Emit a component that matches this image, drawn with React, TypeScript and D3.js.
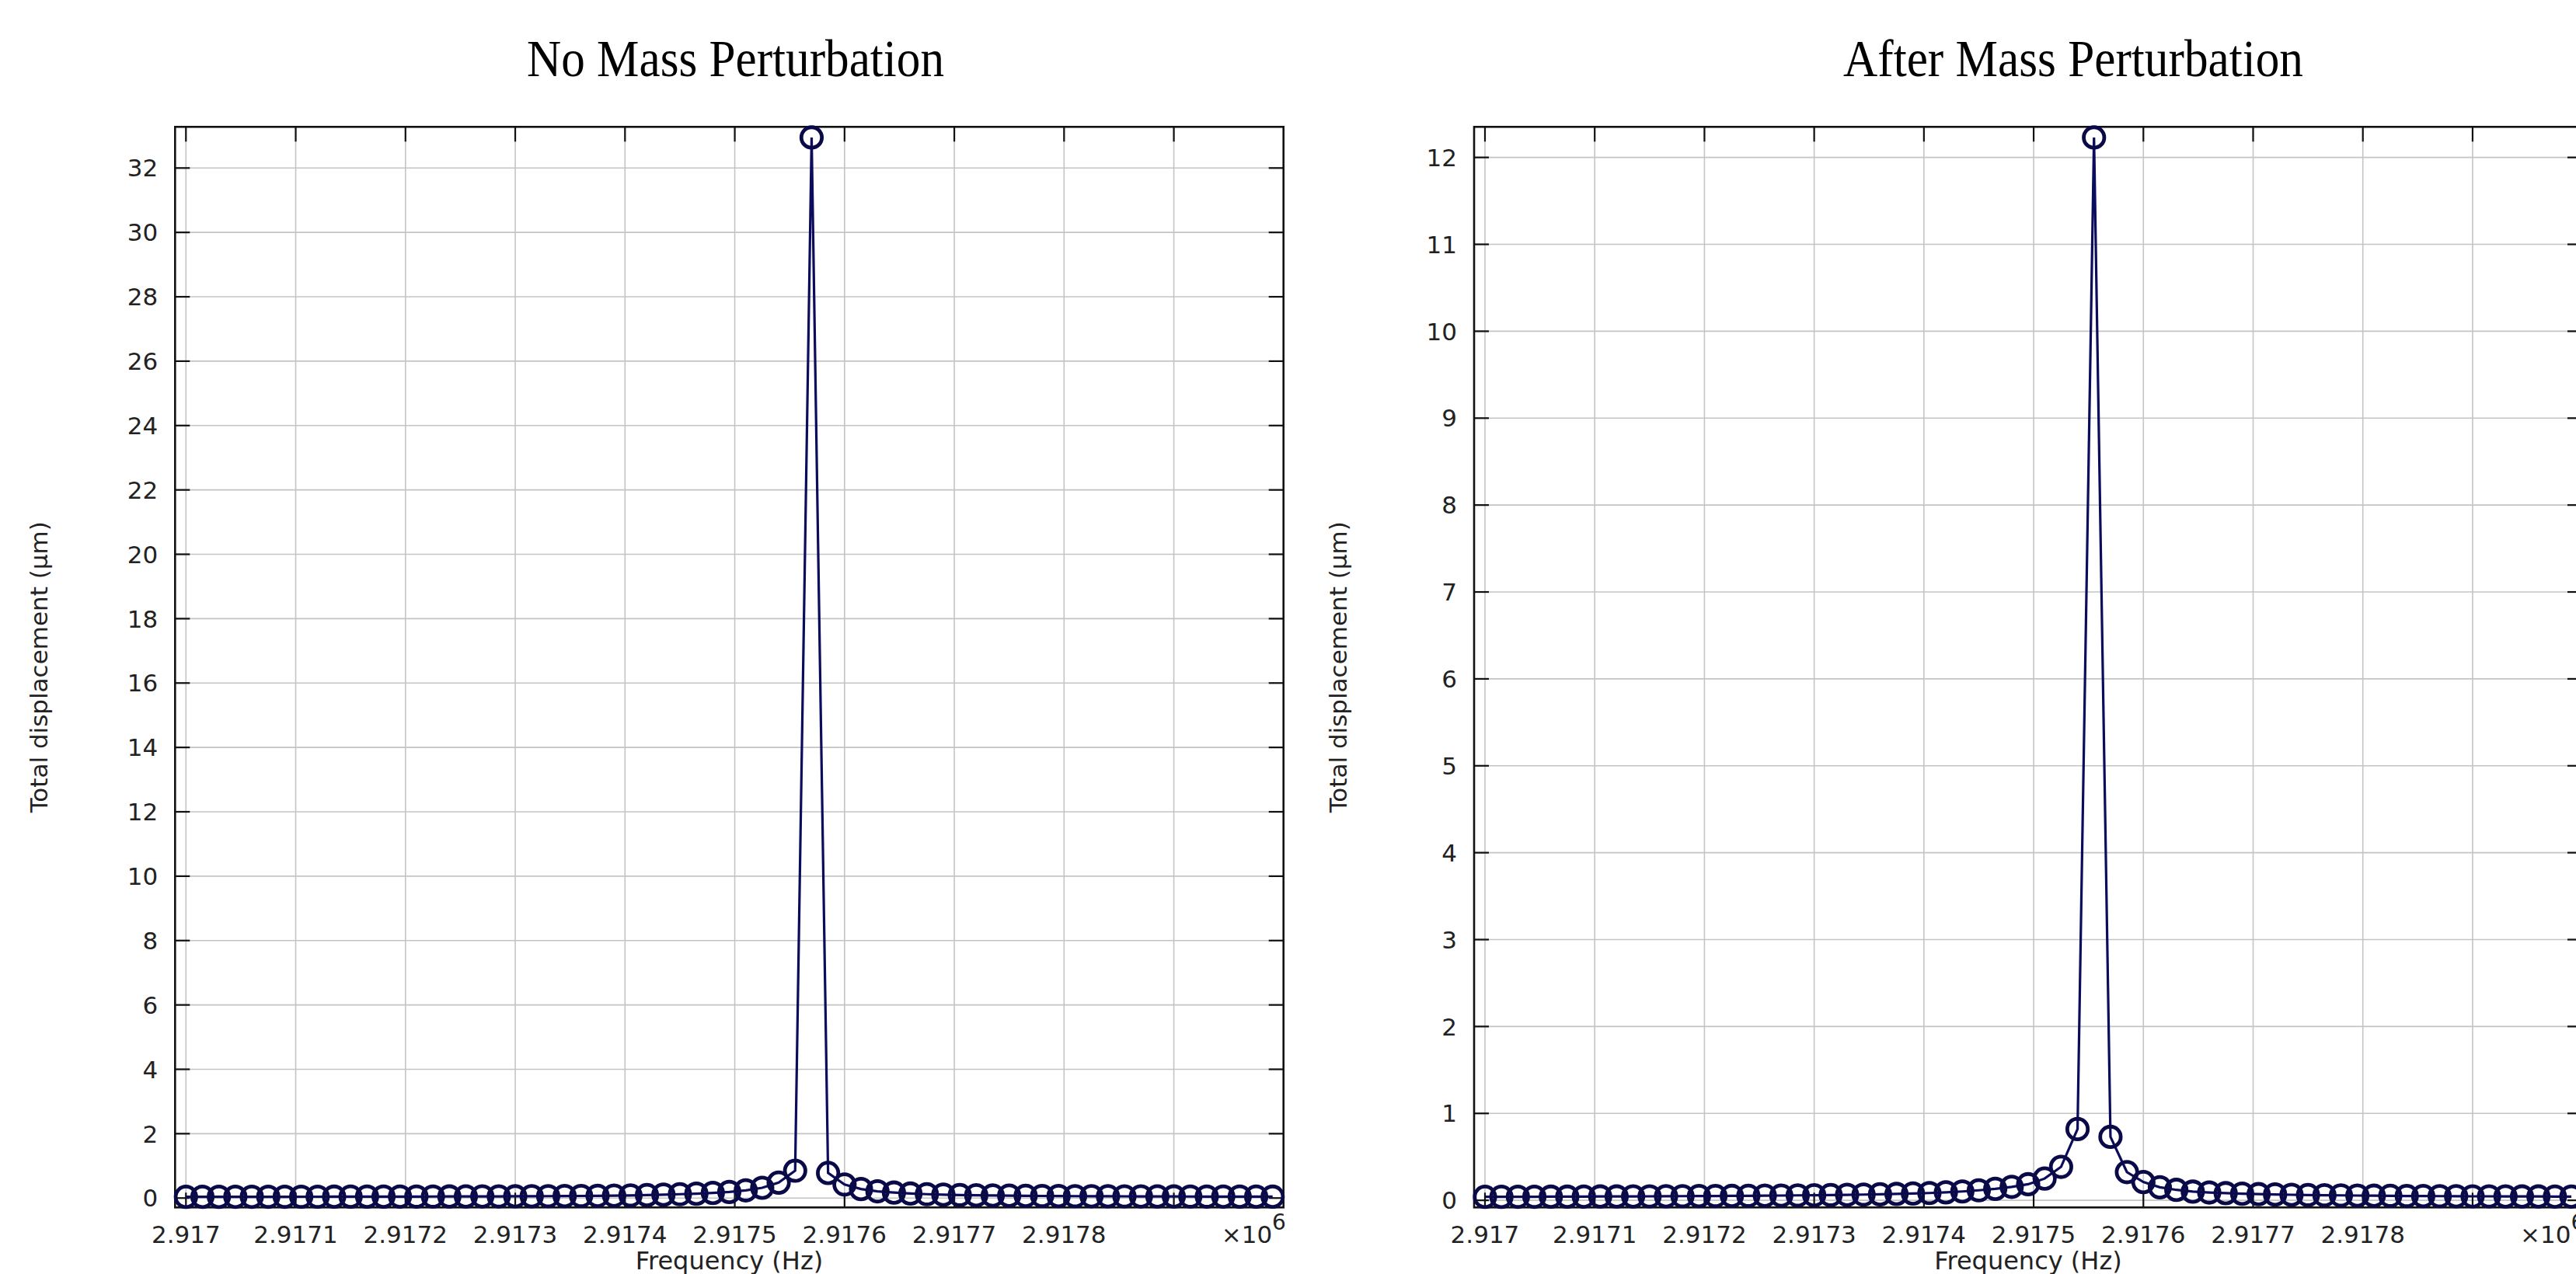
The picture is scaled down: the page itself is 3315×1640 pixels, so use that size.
import React from "react";
import * as d3 from "d3";

// Frequency sweep offsets from 2.917e6 Hz (Hz)
const FREQ_BASE = 2917000;
const FREQ_OFFSETS = [
  0, 15, 30, 45, 60, 75, 90, 105, 120, 135,
  150, 165, 180, 195, 210, 225, 240, 255, 270, 285,
  300, 315, 330, 345, 360, 375, 390, 405, 420, 435,
  450, 465, 480, 495, 510, 525, 540, 555, 570, 585,
  600, 615, 630, 645, 660, 675, 690, 705, 720, 735,
  750, 765, 780, 795, 810, 825, 840, 855, 870, 885,
  900, 915, 930, 945, 960, 975, 990,
];

// Total displacement (µm), no mass perturbation
const NO_MASS = [
  0.038, 0.039, 0.039, 0.040, 0.040, 0.041, 0.041, 0.042, 0.042, 0.043,
  0.044, 0.045, 0.045, 0.046, 0.047, 0.048, 0.049, 0.050, 0.052, 0.053,
  0.055, 0.057, 0.060, 0.063, 0.066, 0.070, 0.076, 0.083, 0.093, 0.105,
  0.120, 0.135, 0.16, 0.19, 0.24, 0.32, 0.48, 0.85,
  32.95,
  0.78, 0.42, 0.28, 0.21, 0.17, 0.14, 0.12, 0.105,
  0.095, 0.087, 0.080, 0.075, 0.070, 0.066, 0.063, 0.060, 0.058, 0.056,
  0.054, 0.052, 0.050, 0.049, 0.048, 0.047, 0.046, 0.045, 0.044, 0.043,
];

// Total displacement (µm), after mass perturbation
const AFTER_MASS = [
  0.040, 0.040, 0.041, 0.041, 0.042, 0.042, 0.043, 0.044, 0.044, 0.045,
  0.046, 0.047, 0.048, 0.049, 0.050, 0.051, 0.052, 0.054, 0.055, 0.057,
  0.059, 0.061, 0.063, 0.066, 0.069, 0.073, 0.078, 0.084, 0.092, 0.102,
  0.115, 0.132, 0.155, 0.185, 0.25, 0.385, 0.82,
  12.23,
  0.73, 0.325, 0.21, 0.15, 0.12, 0.10, 0.09, 0.082, 0.076,
  0.071, 0.067, 0.064, 0.061, 0.059, 0.057, 0.055, 0.053, 0.052, 0.050,
  0.049, 0.048, 0.047, 0.046, 0.046, 0.045, 0.044, 0.044, 0.043, 0.043,
];

const X_TICKS = [2917000, 2917100, 2917200, 2917300, 2917400, 2917500, 2917600, 2917700, 2917800, 2917900];
const X_TICK_LABELS = ["2.917", "2.9171", "2.9172", "2.9173", "2.9174", "2.9175", "2.9176", "2.9177", "2.9178", ""];
const Y_TICKS_LEFT = [0, 2, 4, 6, 8, 10, 12, 14, 16, 18, 20, 22, 24, 26, 28, 30, 32];
const Y_TICKS_RIGHT = [0, 1, 2, 3, 4, 5, 6, 7, 8, 9, 10, 11, 12];

const TITLES = ["No Mass Perturbation", "After Mass Perturbation"];
const X_TITLE = "Frequency (Hz)";
const Y_TITLE = "Total displacement (µm)";

const W = 3315;
const H = 1640;
const SANS = "'DejaVu Sans', Verdana, sans-serif";
const SERIF = "'Liberation Serif', 'Times New Roman', serif";
const LINE_COLOR = "#0c0c5c";
const MARKER_COLOR = "#0a0a48";

type PanelProps = {
  left: number;
  right: number;
  top: number;
  bottom: number;
  values: number[];
  yTicks: number[];
  title: string;
  titleX: number;
  titleWidth: number;
};

function Panel({ left, right, top, bottom, values, yTicks, title, titleX, titleWidth }: PanelProps) {
  const freqs = FREQ_OFFSETS.map((o) => FREQ_BASE + o);
  const [fMin, fMax] = d3.extent(freqs) as [number, number];
  const fPad = (fMax - fMin) * 0.01;
  const x = d3.scaleLinear().domain([fMin - fPad, fMax + fPad]).range([left, right]);
  const [vMin, vMax] = d3.extent(values) as [number, number];
  const vPad = (vMax - vMin) * 0.01;
  const y = d3.scaleLinear().domain([vMin - vPad, vMax + vPad]).range([bottom, top]);

  const pts: [number, number][] = freqs.map((f, i) => [x(f), y(values[i])]);
  const line = d3.line()(pts) || "";
  const tickLen = 19;
  const cx = (left + right) / 2;
  const cy = (top + bottom) / 2;

  return (
    <g>
      {/* grid */}
      {X_TICKS.map((t) => (
        <line key={"gx" + t} x1={x(t)} x2={x(t)} y1={top} y2={bottom} stroke="#c4c4c4" strokeWidth={1.6} />
      ))}
      {yTicks.map((t) => (
        <line key={"gy" + t} x1={left} x2={right} y1={y(t)} y2={y(t)} stroke="#c4c4c4" strokeWidth={1.6} />
      ))}
      {/* ticks */}
      {X_TICKS.map((t) => (
        <g key={"tx" + t}>
          <line x1={x(t)} x2={x(t)} y1={top} y2={top + tickLen} stroke="#111" strokeWidth={2.2} />
          <line x1={x(t)} x2={x(t)} y1={bottom} y2={bottom - tickLen} stroke="#111" strokeWidth={2.2} />
        </g>
      ))}
      {yTicks.map((t) => (
        <g key={"ty" + t}>
          <line x1={left} x2={left + tickLen} y1={y(t)} y2={y(t)} stroke="#111" strokeWidth={2.2} />
          <line x1={right} x2={right - tickLen} y1={y(t)} y2={y(t)} stroke="#111" strokeWidth={2.2} />
        </g>
      ))}
      {/* frame */}
      <rect x={left} y={top} width={right - left} height={bottom - top} fill="none" stroke="#111" strokeWidth={2.6} />
      {/* data */}
      <path d={line} fill="none" stroke={LINE_COLOR} strokeWidth={3.2} />
      {pts.map(([px, py], i) => (
        <circle key={"m" + i} cx={px} cy={py} r={13.2} fill="none" stroke={MARKER_COLOR} strokeWidth={4.8} />
      ))}
      {/* tick labels */}
      {yTicks.map((t) => (
        <text key={"ly" + t} x={left - 22} y={y(t)} dy="0.36em" textAnchor="end" fontFamily={SANS} fontSize={31} fill="#222">
          {t}
        </text>
      ))}
      {X_TICKS.map((t, i) => (
        <text key={"lx" + t} x={x(t)} y={1600} textAnchor="middle" fontFamily={SANS} fontSize={31} fill="#222">
          {X_TICK_LABELS[i]}
        </text>
      ))}
      <text x={right - 80} y={1600} fontFamily={SANS} fontSize={31} fill="#222">
        ×10
        <tspan dy={-17} fontSize={28}>6</tspan>
      </text>
      {/* axis titles */}
      <text x={cx} y={1634} textAnchor="middle" fontFamily={SANS} fontSize={32} fill="#222">
        {X_TITLE}
      </text>
      <text
        transform={`translate(${left - 175},${cy}) rotate(-90)`}
        textAnchor="middle"
        dominantBaseline="central"
        fontFamily={SANS}
        fontSize={31}
        fill="#222"
      >
        {Y_TITLE}
      </text>
      {/* title */}
      <text
        x={titleX}
        y={98}
        textAnchor="middle"
        fontFamily={SERIF}
        fontSize={68}
        fill="#000"
        textLength={titleWidth}
        lengthAdjust="spacingAndGlyphs"
      >
        {title}
      </text>
    </g>
  );
}

export default function App() {
  return (
    <svg
      width={W}
      height={H}
      viewBox={`0 0 ${W} ${H}`}
      style={{ position: "absolute", left: 0, top: 0, display: "block", background: "#fff" }}
    >
      <rect x={0} y={0} width={W} height={H} fill="#fff" />
      <Panel
        left={225.3}
        right={1651.7}
        top={163.3}
        bottom={1554.3}
        values={NO_MASS}
        yTicks={Y_TICKS_LEFT}
        title={TITLES[0]}
        titleX={946.5}
        titleWidth={537}
      />
      <Panel
        left={1897}
        right={3323}
        top={163.3}
        bottom={1554.3}
        values={AFTER_MASS}
        yTicks={Y_TICKS_RIGHT}
        title={TITLES[1]}
        titleX={2668}
        titleWidth={592}
      />
    </svg>
  );
}
